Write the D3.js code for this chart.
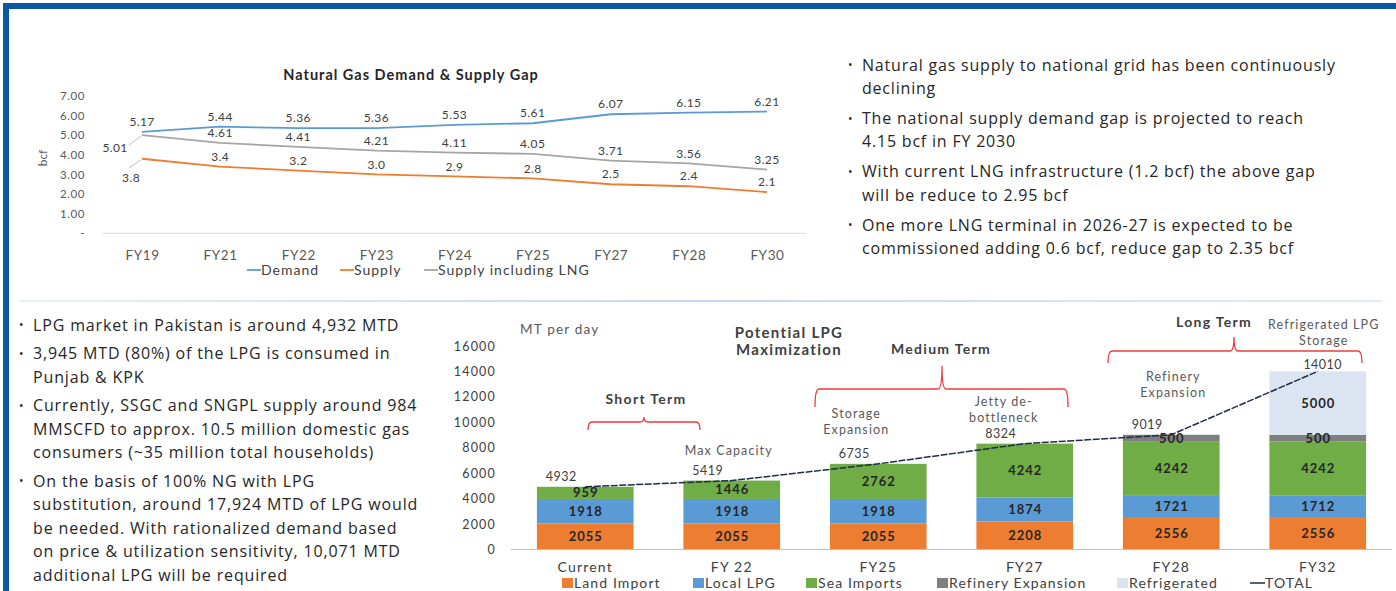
<!DOCTYPE html>
<html><head><meta charset="utf-8">
<script src="https://cdn.jsdelivr.net/npm/d3@7/dist/d3.min.js"></script>
<style>
body{margin:0;background:#fff;overflow:hidden}
svg{display:block}
</style>
</head><body>
<svg id="slide" width="1396" height="591"></svg>
<script>
// ---- Natural gas demand & supply (bcf) ----
const gasYears = ["FY19","FY21","FY22","FY23","FY24","FY25","FY27","FY28","FY30"];
const gasDemand = [5.17,5.44,5.36,5.36,5.53,5.61,6.07,6.15,6.21];
const gasSupply = [3.8,3.4,3.2,3.0,2.9,2.8,2.5,2.4,2.1];
const gasSupplyLng = [5.01,4.61,4.41,4.21,4.11,4.05,3.71,3.56,3.25];
const gasTicks = [0,1,2,3,4,5,6,7];
const gasSeriesNames = ["Demand","Supply","Supply including LNG"];

// ---- LPG maximization (MT per day) ----
const lpgPeriods = ["Current","FY 22","FY25","FY27","FY28","FY32"];
const lpgLand = [2055,2055,2055,2208,2556,2556];
const lpgLocal = [1918,1918,1918,1874,1721,1712];
const lpgSea = [959,1446,2762,4242,4242,4242];
const lpgRefinery = [0,0,0,0,500,500];
const lpgRefrigerated = [0,0,0,0,0,5000];
const lpgTotal = [4932,5419,6735,8324,9019,14010];
const lpgTicks = [0,2000,4000,6000,8000,10000,12000,14000,16000];
const lpgSeriesNames = ["Land Import","Local LPG","Sea Imports","Refinery Expansion","Refrigerated"];
const lpgNotes = [
  {period:"FY 22", lines:["Max Capacity"]},
  {period:"FY25", lines:["Storage","Expansion"]},
  {period:"FY27", lines:["Jetty de-","bottleneck"]},
  {period:"FY28", lines:["Refinery","Expansion"]},
  {period:"FY32", lines:["Refrigerated LPG","Storage"]}
];

const gasBullets = [
  ["Natural gas supply to national grid has been continuously","declining"],
  ["The national supply demand gap is projected to reach","4.15 bcf in FY 2030"],
  ["With current LNG infrastructure (1.2 bcf) the above gap","will be reduce to 2.95 bcf"],
  ["One more LNG terminal in 2026-27 is expected to be","commissioned adding 0.6 bcf, reduce gap to 2.35 bcf"]
];
const lpgBullets = [
  ["LPG market in Pakistan is around 4,932 MTD"],
  ["3,945 MTD (80%) of the LPG is consumed in","Punjab & KPK"],
  ["Currently, SSGC and SNGPL supply around 984","MMSCFD to approx. 10.5 million domestic gas","consumers (~35 million total households)"],
  ["On the basis of 100% NG with LPG","substitution, around 17,924 MTD of LPG would","be needed. With rationalized demand based","on price & utilization sensitivity, 10,071 MTD","additional LPG will be required"]
];

const svg = d3.select("#slide");
const chartFont = "Lato, 'Noto Sans', sans-serif";
const bodyFont = "'Open Sans', 'Noto Sans', sans-serif";

// slide frame
const frameBlue = "#0b56a5";
svg.append("rect").attr("x",3).attr("y",3).attr("width",1393).attr("height",6).attr("fill",frameBlue);
svg.append("rect").attr("x",3).attr("y",3).attr("width",6).attr("height",588).attr("fill",frameBlue);

// separator between the two halves
const grad = svg.append("defs").append("linearGradient").attr("id","sepGrad");
grad.append("stop").attr("offset","0%").attr("stop-color","#c6d8ef").attr("stop-opacity",0.4);
grad.append("stop").attr("offset","50%").attr("stop-color","#c6d8ef").attr("stop-opacity",1);
grad.append("stop").attr("offset","100%").attr("stop-color","#c6d8ef").attr("stop-opacity",0.5);
svg.append("rect").attr("x",20).attr("y",300).attr("width",1362).attr("height",2).attr("fill","url(#sepGrad)");

// bullet text blocks
function bulletBlock(items, x, y0, lineH, gap, size, spacing){
  const g = svg.append("g").attr("font-family",bodyFont).attr("font-size",size).attr("fill","#262626");
  let y = y0;
  items.forEach(lines=>{
    g.append("text").attr("x",x-14).attr("y",y).attr("dy","0.35em").attr("font-size",size*0.75).text("•");
    lines.forEach((ln,i)=>{
      g.append("text").attr("x",x).attr("y",y).attr("dy","0.35em").attr("letter-spacing",spacing).text(ln);
      y += (i<lines.length-1) ? lineH : 0;
    });
    y += gap;
  });
}
bulletBlock(gasBullets, 862, 65, 23.3, 30, 16, 0.8);
bulletBlock(lpgBullets, 33, 325, 23.5, 28.5, 16, 0.85);

// ================= Line chart =================
{
  const x = d3.scalePoint().domain(gasYears).range([103,806]).padding(0.5);
  const y = d3.scaleLinear().domain([0,7]).range([233.3,96]);
  const g = svg.append("g").attr("font-family",chartFont);

  g.append("text").attr("x",411).attr("y",75).attr("dy","0.35em").attr("text-anchor","middle")
    .attr("font-weight","bold").attr("font-size",14.5).attr("letter-spacing",1).attr("fill","#262626")
    .text("Natural Gas Demand & Supply Gap");

  g.append("line").attr("x1",103).attr("x2",806).attr("y1",y(0)).attr("y2",y(0))
    .attr("stroke","#d9d9d9").attr("stroke-width",1);

  const yAxis = g.append("g").attr("transform","translate(87,0)")
    .call(d3.axisLeft(y).tickValues(gasTicks).tickSize(0).tickPadding(2)
      .tickFormat(d=> d===0 ? "-" : d3.format(".2f")(d)));
  yAxis.select(".domain").remove();
  yAxis.selectAll("text").attr("font-family",chartFont).attr("font-size",11.5)
    .attr("letter-spacing",0.6).attr("fill","#595959");

  const xAxis = g.append("g").attr("transform",`translate(0,${y(0)})`)
    .call(d3.axisBottom(x).tickSize(0).tickPadding(17));
  xAxis.select(".domain").remove();
  xAxis.selectAll("text").attr("font-family",chartFont).attr("font-size",13.5)
    .attr("letter-spacing",0.6).attr("fill","#595959");

  g.append("text").attr("transform","translate(43,158) rotate(-90)").attr("text-anchor","middle")
    .attr("dy","0.35em").attr("font-size",12).attr("fill","#595959").text("bcf");

  const series = [
    {name:gasSeriesNames[0], values:gasDemand, color:"#5b9bd5"},
    {name:gasSeriesNames[1], values:gasSupply, color:"#ed7d31"},
    {name:gasSeriesNames[2], values:gasSupplyLng, color:"#a5a5a5"}
  ];
  const line = d3.line().x((d,i)=>x(gasYears[i])).y(d=>y(d));
  series.forEach(s=>{
    g.append("path").attr("d",line(s.values)).attr("fill","none")
      .attr("stroke",s.color).attr("stroke-width",1.8);
  });

  // value labels
  const lbl = g.append("g").attr("font-size",12).attr("letter-spacing",0.4)
    .attr("fill","#404040").attr("text-anchor","middle");
  series.forEach((s,si)=>{
    s.values.forEach((v,i)=>{
      let lx = x(gasYears[i]), ly = y(v) - 10;
      const txt = si===1 ? d3.format(".1f")(v) : d3.format(".2f")(v);
      if(i===0 && si>0){
        // first supply points carry leader lines to labels set off to the left
        const off = si===1 ? {dx:-11,dy:19} : {dx:-27,dy:13};
        lx = x(gasYears[i]) + off.dx; ly = y(v) + off.dy;
        g.append("line").attr("x1",x(gasYears[i])-1).attr("y1",y(v)+1)
          .attr("x2",lx+ (si===1?-2:14)).attr("y2",ly-(si===1?10:3))
          .attr("stroke","#bfbfbf").attr("stroke-width",1);
      }
      lbl.append("text").attr("x",lx).attr("y",ly).attr("dy","0.35em").text(txt);
    });
  });

  // legend
  const lg = g.append("g").attr("font-size",14).attr("letter-spacing",1).attr("fill","#404040");
  const legX = [247,340,424];
  series.forEach((s,i)=>{
    lg.append("line").attr("x1",legX[i]).attr("x2",legX[i]+14).attr("y1",270).attr("y2",270)
      .attr("stroke",s.color).attr("stroke-width",1.8);
    lg.append("text").attr("x",legX[i]+14).attr("y",270).attr("dy","0.35em").text(s.name);
  });
}

// ================= Stacked bar chart =================
{
  const x = d3.scaleBand().domain(lpgPeriods).range([512,1391]).paddingInner(0.34).paddingOuter(0.17);
  const y = d3.scaleLinear().domain([0,16000]).range([549.5,346]);
  const g = svg.append("g").attr("font-family",chartFont);
  const colors = ["#ed7d31","#5b9bd5","#70ad47","#7f7f7f","#dbe5f1"];

  const yAxis = g.append("g").attr("transform","translate(496,0)")
    .call(d3.axisLeft(y).tickValues(lpgTicks).tickSize(0).tickPadding(0).tickFormat(d3.format("d")));
  yAxis.select(".domain").remove();
  yAxis.selectAll("text").attr("font-family",chartFont).attr("font-size",12.5)
    .attr("letter-spacing",1.2).attr("fill","#404040");

  const rows = lpgPeriods.map((p,i)=>({period:p,
    [lpgSeriesNames[0]]:lpgLand[i],[lpgSeriesNames[1]]:lpgLocal[i],[lpgSeriesNames[2]]:lpgSea[i],
    [lpgSeriesNames[3]]:lpgRefinery[i],[lpgSeriesNames[4]]:lpgRefrigerated[i]}));
  const stacked = d3.stack().keys(lpgSeriesNames)(rows);

  stacked.forEach((layer,li)=>{
    const lg = g.append("g");
    layer.forEach(d=>{
      const v = d[1]-d[0];
      if(v<=0) return;
      lg.append("rect").attr("x",x(d.data.period)).attr("width",x.bandwidth())
        .attr("y",y(d[1])).attr("height",y(d[0])-y(d[1])).attr("fill",colors[li]);
    });
  });
  stacked.forEach((layer,li)=>{
    layer.forEach(d=>{
      const v = d[1]-d[0];
      if(v<=0) return;
      g.append("text").attr("x",x(d.data.period)+x.bandwidth()/2+0.5).attr("y",(y(d[0])+y(d[1]))/2)
        .attr("dy","0.35em").attr("text-anchor","middle").attr("font-weight","bold")
        .attr("font-size",13).attr("letter-spacing",1).attr("fill","#262626").text(v);
    });
  });

  g.append("line").attr("x1",511).attr("x2",1392).attr("y1",y(0)).attr("y2",y(0))
    .attr("stroke","#bfbfbf").attr("stroke-width",1.2);

  const xAxis = g.append("g").attr("transform",`translate(0,${y(0)})`)
    .call(d3.axisBottom(x).tickSize(0).tickPadding(13));
  xAxis.select(".domain").remove();
  xAxis.selectAll("text").attr("font-family",chartFont).attr("font-size",14)
    .attr("letter-spacing",1.2).attr("fill","#404040");

  // total line
  const cx = p => x(p)+x.bandwidth()/2;
  const tline = d3.line().x((d,i)=>cx(lpgPeriods[i])).y(d=>y(d));
  g.append("path").attr("d",tline(lpgTotal)).attr("fill","none")
    .attr("stroke","#1f2b4a").attr("stroke-width",1.5).attr("stroke-dasharray","7,1.5");
  lpgTotal.forEach((v,i)=>{
    const last = i===lpgTotal.length-1;
    g.append("text").attr("x",cx(lpgPeriods[i]) + (last?5:-24)).attr("y",y(v)-(last?7:10))
      .attr("dy","0.35em").attr("text-anchor","middle").attr("font-size",12.5)
      .attr("letter-spacing",0.5).attr("fill","#404040").text(v);
  });

  // stage notes
  const noteY = {"FY 22":451,"FY25":414,"FY27":402,"FY28":377,"FY32":325};
  const noteDx = {"FY 22":-3,"FY25":-22,"FY27":-21,"FY28":2,"FY32":6};
  lpgNotes.forEach(n=>{
    n.lines.forEach((t,k)=>{
      g.append("text").attr("x",cx(n.period)+noteDx[n.period]).attr("y",noteY[n.period]+k*15.5)
        .attr("dy","0.35em").attr("text-anchor","middle").attr("font-size",12.5)
        .attr("letter-spacing",1.1).attr("fill","#595959").text(t);
    });
  });

  g.append("text").attr("x",520).attr("y",329).attr("dy","0.35em").attr("font-size",13.5)
    .attr("letter-spacing",1.2).attr("fill","#595959").text("MT per day");
  ["Potential LPG","Maximization"].forEach((t,k)=>{
    g.append("text").attr("x",789).attr("y",333+k*17).attr("dy","0.35em").attr("text-anchor","middle")
      .attr("font-weight","bold").attr("font-size",15).attr("letter-spacing",1.3)
      .attr("fill","#404040").text(t);
  });

  // term braces
  const brace = (x0,x1,xm,yH,yEnd,yTip)=>{
    const r = 4;
    return `M${x0},${yEnd} Q${x0},${yH} ${x0+r},${yH} L${xm-r},${yH} Q${xm},${yH} ${xm},${yTip}`+
           ` Q${xm},${yH} ${xm+r},${yH} L${x1-r},${yH} Q${x1},${yH} ${x1},${yEnd}`;
  };
  const terms = [
    {label:"Short Term", x0:588, x1:700, xm:644, yH:422, yEnd:430, yTip:417, lx:646, ly:399},
    {label:"Medium Term", x0:815, x1:1068, xm:942, yH:389, yEnd:407, yTip:366, lx:941, ly:349},
    {label:"Long Term", x0:1108, x1:1362, xm:1234, yH:351, yEnd:363, yTip:337, lx:1214, ly:322}
  ];
  terms.forEach(t=>{
    g.append("path").attr("d",brace(t.x0,t.x1,t.xm,t.yH,t.yEnd,t.yTip)).attr("fill","none")
      .attr("stroke","#f23a3a").attr("stroke-width",1.3);
    g.append("text").attr("x",t.lx).attr("y",t.ly)
      .attr("dy","0.35em").attr("text-anchor","middle").attr("font-weight","bold")
      .attr("font-size",14).attr("letter-spacing",1.3).attr("fill","#404040").text(t.label);
  });

  // legend
  const legX = [562,693,806,937,1117];
  const lg = g.append("g").attr("font-size",14).attr("letter-spacing",1.1).attr("fill","#404040");
  lpgSeriesNames.forEach((n,i)=>{
    lg.append("rect").attr("x",legX[i]).attr("y",578).attr("width",11).attr("height",10).attr("fill",colors[i]);
    lg.append("text").attr("x",legX[i]+12).attr("y",583).attr("dy","0.35em").text(n);
  });
  lg.append("line").attr("x1",1250).attr("x2",1265).attr("y1",583).attr("y2",583)
    .attr("stroke","#1f2b4a").attr("stroke-width",1.5);
  lg.append("text").attr("x",1265).attr("y",583).attr("dy","0.35em").text("TOTAL");
}
</script>
</body></html>
